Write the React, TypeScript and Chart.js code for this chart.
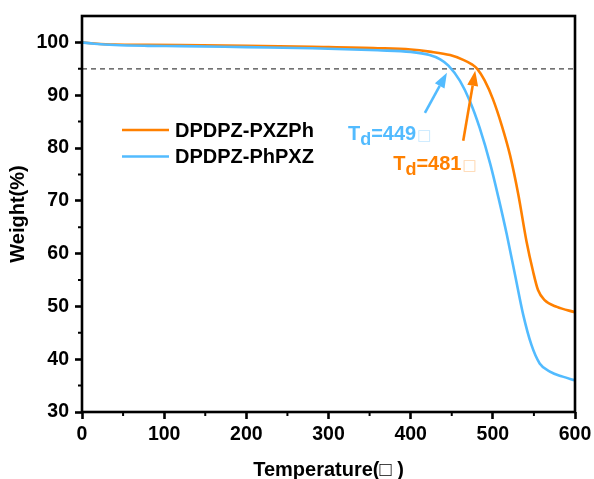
import React, { useEffect, useRef } from "react";
import { Chart, registerables } from "chart.js";

Chart.register(...registerables);

// ---------- data ----------
const seriesNames = ["DPDPZ-PXZPh", "DPDPZ-PhPXZ"];

const pxzphTemps = [0, 15, 40, 80, 120, 200, 280, 360, 400, 423, 448, 464, 475, 481, 490, 500, 511, 521, 531, 541, 549, 555, 563, 578, 600];
const pxzphWeights = [100, 99.8, 99.6, 99.55, 99.5, 99.35, 99.15, 98.9, 98.65, 98.25, 97.6, 96.7, 95.8, 95.0, 92.8, 89.3, 84.2, 78.6, 71.2, 62.3, 56.6, 53.1, 51.2, 49.9, 48.9];

const phpxzTemps = [0, 15, 40, 80, 120, 200, 280, 360, 400, 423, 436, 446, 460, 472, 484, 497, 507, 517, 527, 537, 547, 557, 570, 585, 600];
const phpxzWeights = [100, 99.75, 99.5, 99.35, 99.3, 99.1, 98.9, 98.5, 98.2, 97.6, 96.8, 95.6, 92.7, 88.9, 83.8, 76.9, 70.5, 63.6, 56.0, 48.4, 42.7, 39.2, 37.6, 36.7, 36.0];

const xTickValues = [0, 100, 200, 300, 400, 500, 600];
const yTickValues = [30, 40, 50, 60, 70, 80, 90, 100];
const xMinorValues = [50, 150, 250, 350, 450, 550];
const yMinorValues = [35, 45, 55, 65, 75, 85, 95];

const onsetWeight = 95;
const onsetTemps = [481, 449]; // PXZPh, PhPXZ

const xTitle = "Temperature(\u25A1 )";
const yTitle = "Weight(%)";

// ---------- style ----------
const ORANGE = "#FF8000";
const BLUE = "#52BBFF";
const FONT = "'Liberation Sans', Arial, Helvetica, sans-serif";
const colors = [ORANGE, BLUE];

// annotation layout (pixel offsets from the onset point)
const annot = [
  { tail: [-14, 72], tip: [-2, 2], text: [-84, 101] },
  { tail: [-26, 44], tip: [-4, 4], text: [-103, 71] },
];

function drawArrow(ctx: CanvasRenderingContext2D, x0: number, y0: number, x1: number, y1: number, color: string) {
  const ang = Math.atan2(y1 - y0, x1 - x0);
  const headLen = 15;
  const headHalf = 5.5;
  const bx = x1 - headLen * Math.cos(ang);
  const by = y1 - headLen * Math.sin(ang);
  ctx.save();
  ctx.strokeStyle = color;
  ctx.fillStyle = color;
  ctx.lineWidth = 2.6;
  ctx.beginPath();
  ctx.moveTo(x0, y0);
  ctx.lineTo(bx, by);
  ctx.stroke();
  ctx.beginPath();
  ctx.moveTo(x1, y1);
  ctx.lineTo(bx + headHalf * Math.sin(ang), by - headHalf * Math.cos(ang));
  ctx.lineTo(bx - headHalf * Math.sin(ang), by + headHalf * Math.cos(ang));
  ctx.closePath();
  ctx.fill();
  ctx.restore();
}

function drawTd(ctx: CanvasRenderingContext2D, x: number, y: number, value: number, color: string) {
  ctx.save();
  ctx.fillStyle = color;
  ctx.textBaseline = "alphabetic";
  ctx.textAlign = "left";
  ctx.font = `bold 20px ${FONT}`;
  ctx.fillText("T", x, y);
  let cx = x + ctx.measureText("T").width;
  ctx.font = `bold 18px ${FONT}`;
  ctx.fillText("d", cx, y + 5);
  cx += ctx.measureText("d").width;
  ctx.font = `bold 20px ${FONT}`;
  const s = "=" + value;
  ctx.fillText(s, cx, y);
  cx += ctx.measureText(s).width + 1;
  ctx.globalAlpha = 0.35;
  ctx.font = `15px 'DejaVu Sans', sans-serif`;
  ctx.fillText("\u25A1", cx, y);
  ctx.restore();
}

const decorPlugin = {
  id: "decor",
  beforeDatasetsDraw(chart: any) {
    const { ctx, scales } = chart;
    const xs = scales.x;
    const ys = scales.y;
    const y = ys.getPixelForValue(onsetWeight);
    ctx.save();
    ctx.strokeStyle = "#444";
    ctx.lineWidth = 1.2;
    ctx.setLineDash([5, 4]);
    ctx.beginPath();
    ctx.moveTo(xs.getPixelForValue(0), y);
    ctx.lineTo(xs.getPixelForValue(600), y);
    ctx.stroke();
    ctx.restore();
  },
  afterDraw(chart: any) {
    const { ctx, chartArea, scales } = chart;
    const xs = scales.x;
    const ys = scales.y;
    ctx.save();
    // frame
    ctx.strokeStyle = "#000";
    ctx.lineWidth = 2.6;
    ctx.strokeRect(chartArea.left, chartArea.top, chartArea.right - chartArea.left, chartArea.bottom - chartArea.top);
    // minor ticks
    ctx.lineWidth = 2;
    ctx.beginPath();
    xMinorValues.forEach((v) => {
      const px = xs.getPixelForValue(v);
      ctx.moveTo(px, chartArea.bottom);
      ctx.lineTo(px, chartArea.bottom + 4);
    });
    yMinorValues.forEach((v) => {
      const py = ys.getPixelForValue(v);
      ctx.moveTo(chartArea.left, py);
      ctx.lineTo(chartArea.left - 4, py);
    });
    ctx.stroke();

    // legend
    const legendX0 = 122;
    const legendX1 = 169;
    const legendY = [130, 156.5];
    seriesNames.forEach((name, i) => {
      ctx.strokeStyle = colors[i];
      ctx.lineWidth = 2.6;
      ctx.beginPath();
      ctx.moveTo(legendX0, legendY[i]);
      ctx.lineTo(legendX1, legendY[i]);
      ctx.stroke();
      ctx.fillStyle = "#000";
      ctx.font = `bold 20px ${FONT}`;
      ctx.textBaseline = "middle";
      ctx.textAlign = "left";
      ctx.fillText(name, 175, legendY[i] + 1);
    });

    // annotations
    const py = ys.getPixelForValue(onsetWeight);
    onsetTemps.forEach((t, i) => {
      const px = xs.getPixelForValue(t);
      const a = annot[i];
      drawArrow(ctx, px + a.tail[0], py + a.tail[1], px + a.tip[0], py + a.tip[1], colors[i]);
      drawTd(ctx, px + a.text[0], py + a.text[1], t, colors[i]);
    });
    ctx.restore();
  },
};

export default function App() {
  const ref = useRef<HTMLCanvasElement | null>(null);

  useEffect(() => {
    if (!ref.current) return;
    const tickFont = { family: FONT, size: 19.5, weight: "bold" as const };
    const titleFont = { family: FONT, size: 20, weight: "bold" as const };
    const chart = new Chart(ref.current, {
      type: "line",
      data: {
        datasets: [
          {
            label: seriesNames[0],
            data: pxzphTemps.map((t, i) => ({ x: t, y: pxzphWeights[i] })),
            borderColor: ORANGE,
            backgroundColor: ORANGE,
            borderWidth: 2.6,
            pointRadius: 0,
            cubicInterpolationMode: "monotone",
            order: 1,
          },
          {
            label: seriesNames[1],
            data: phpxzTemps.map((t, i) => ({ x: t, y: phpxzWeights[i] })),
            borderColor: BLUE,
            backgroundColor: BLUE,
            borderWidth: 2.6,
            pointRadius: 0,
            cubicInterpolationMode: "monotone",
            order: 0,
          },
        ],
      },
      options: {
        animation: false,
        responsive: false,
        devicePixelRatio: 1,
        layout: { padding: { left: 0, top: 16, right: 19, bottom: 0 } },
        plugins: { legend: { display: false }, tooltip: { enabled: false } },
        scales: {
          x: {
            type: "linear",
            min: 0,
            max: 600,
            afterBuildTicks: (s: any) => {
              s.ticks = xTickValues.map((v) => ({ value: v }));
            },
            afterFit: (s: any) => {
              s.height = 67;
              s.paddingLeft = 0;
              s.paddingRight = 0;
            },
            ticks: { font: tickFont, color: "#000", padding: 4, maxRotation: 0, autoSkip: false },
            grid: { drawOnChartArea: false, drawTicks: true, tickLength: 7, tickWidth: 2.6, tickColor: "#000" },
            border: { display: false },
            title: { display: true, text: xTitle, font: titleFont, color: "#000", padding: { top: 0, bottom: -3 } },
          },
          y: {
            type: "linear",
            min: 30,
            max: 105,
            afterBuildTicks: (s: any) => {
              s.ticks = yTickValues.map((v) => ({ value: v }));
            },
            afterFit: (s: any) => {
              s.width = 82;
              s.paddingTop = 0;
              s.paddingBottom = 0;
            },
            ticks: { font: tickFont, color: "#000", padding: 6 },
            grid: { drawOnChartArea: false, drawTicks: true, tickLength: 7, tickWidth: 2.6, tickColor: "#000" },
            border: { display: false },
            title: { display: true, text: yTitle, font: titleFont, color: "#000", padding: { top: 6, bottom: 0 } },
          },
        },
      },
      plugins: [decorPlugin],
    } as any);
    return () => chart.destroy();
  }, []);

  return (
    <div style={{ position: "absolute", left: 0, top: 0, width: 594, height: 479, background: "#fff" }}>
      <canvas ref={ref} width={594} height={479} style={{ display: "block" }} />
    </div>
  );
}
